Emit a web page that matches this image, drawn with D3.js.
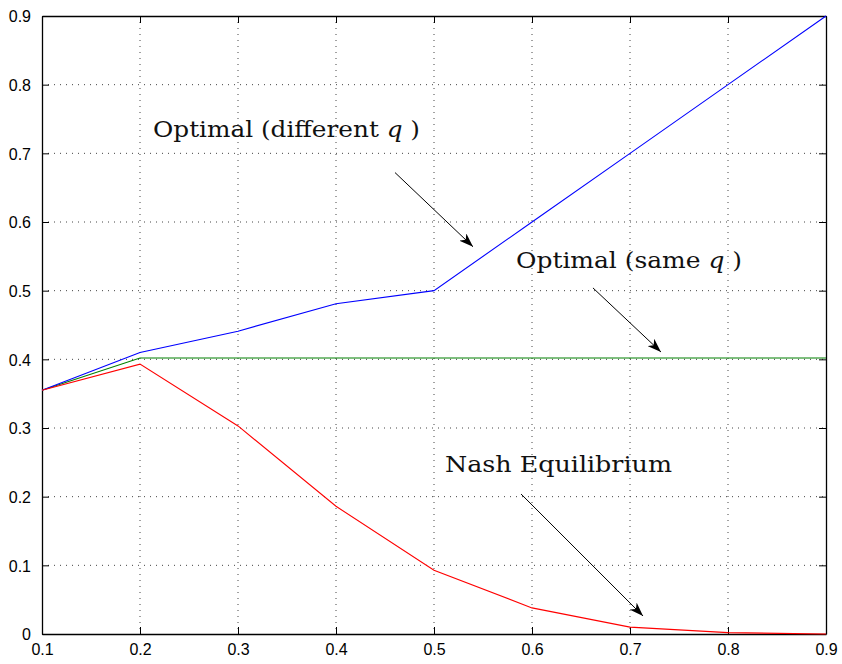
<!DOCTYPE html>
<html><head><meta charset="utf-8">
<script src="https://cdn.jsdelivr.net/npm/d3@7"></script>
<style>body{margin:0;background:#fff}svg{display:block}
.ann{font-family:"DejaVu Serif",serif;}
.tk{font-family:"Liberation Sans",Arial,sans-serif;}
</style>
</head><body>
<svg id="chart" width="842" height="664"></svg>
<script>
const xValues = [0.1,0.2,0.3,0.4,0.5,0.6,0.7,0.8,0.9];
const optimalDifferent = [0.355,0.41,0.441,0.481,0.5,0.6,0.7,0.8,0.9];
const optimalSame = [0.355,0.402,0.402,0.402,0.402,0.402,0.402,0.402,0.402];
const nash = [0.355,0.393,0.303,0.186,0.093,0.038,0.010,0.002,0.0];
const xTicks = [0.1,0.2,0.3,0.4,0.5,0.6,0.7,0.8,0.9];
const yTicks = [0,0.1,0.2,0.3,0.4,0.5,0.6,0.7,0.8,0.9];
const labels = [
  {text:"Optimal (different ", q:"q", x:0.2133, y:0.7238, w:267, ax0:0.4602, ay0:0.672, ax1:0.5398, ay1:0.564},
  {text:"Optimal (same ", q:"q", x:0.5837, y:0.533, w:226, ax0:0.6622, ay0:0.504, ax1:0.7316, ay1:0.4107},
  {text:"Nash Equilibrium", q:null, x:0.5112, y:0.2359, w:227, ax0:0.5888, ay0:0.2039, ax1:0.7133, ay1:0.0262}
];

const svg = d3.select("#chart");
const L=42, R=826, T=16, B=634;
const x = d3.scaleLinear().domain([0.1,0.9]).range([L,R]);
const y = d3.scaleLinear().domain([0,0.9]).range([B,T]);

// grid
const g = svg.append("g");
g.selectAll(".gx").data(xTicks.slice(1,-1)).enter().append("line")
  .attr("x1",d=>x(d)).attr("x2",d=>x(d)).attr("y1",T).attr("y2",B)
  .attr("stroke","#444").attr("stroke-width",1).attr("stroke-dasharray","1,5");
g.selectAll(".gy").data(yTicks.slice(1,-1)).enter().append("line")
  .attr("y1",d=>y(d)).attr("y2",d=>y(d)).attr("x1",L).attr("x2",R)
  .attr("stroke","#444").attr("stroke-width",1).attr("stroke-dasharray","1,5");

// axes
const fmt = d=> d===0 ? "0" : d3.format(".1f")(d);
const axB = svg.append("g").attr("transform",`translate(0,${B})`)
  .call(d3.axisBottom(x).tickValues(xTicks).tickFormat(fmt).tickSizeInner(-7).tickSizeOuter(0).tickPadding(13));
const axL = svg.append("g").attr("transform",`translate(${L},0)`)
  .call(d3.axisLeft(y).tickValues(yTicks).tickFormat(fmt).tickSizeInner(-7).tickSizeOuter(0).tickPadding(11));
const axT = svg.append("g").attr("transform",`translate(0,${T})`)
  .call(d3.axisTop(x).tickValues(xTicks).tickFormat("").tickSizeInner(-7).tickSizeOuter(0));
const axR = svg.append("g").attr("transform",`translate(${R},0)`)
  .call(d3.axisRight(y).tickValues(yTicks).tickFormat("").tickSizeInner(-7).tickSizeOuter(0));
[axB,axL,axT,axR].forEach(a=>{
  a.attr("font-family",null).attr("font-size",null);
  a.selectAll("path.domain").attr("stroke","#000").attr("stroke-width",1.3);
  a.selectAll(".tick line").attr("stroke","#000");
  a.selectAll("text").attr("class","tk").style("font-size","16px").attr("fill","#000");
});
axB.selectAll("text").attr("dy","0.5em");
axL.selectAll("text").attr("dy","0.36em");

// lines
const line = arr => d3.line().x((d,i)=>x(xValues[i])).y(d=>y(d))(arr);
const series = [
  {v:optimalSame, c:"#008000"},
  {v:optimalDifferent, c:"#0000ff"},
  {v:nash, c:"#ff0000"}
];
svg.selectAll(".series").data(series).enter().append("path")
  .attr("d",d=>line(d.v)).attr("fill","none").attr("stroke",d=>d.c).attr("stroke-width",1.1);

// arrowhead marker
svg.append("defs").append("marker").attr("id","arr")
  .attr("viewBox","0 0 14 10").attr("refX",14).attr("refY",5)
  .attr("markerWidth",14).attr("markerHeight",10).attr("markerUnits","userSpaceOnUse")
  .attr("orient","auto")
  .append("path").attr("d","M0,0 L14,5 L0,10 L4,5 Z").attr("fill","#000");

// annotations
labels.forEach(l=>{
  const t = svg.append("text").attr("class","ann").attr("x",x(l.x)).attr("y",y(l.y))
    .style("font-size","22px").attr("fill","#111")
    .attr("textLength",l.w).attr("lengthAdjust","spacingAndGlyphs");
  t.append("tspan").text(l.text);
  if(l.q){
    t.append("tspan").attr("font-style","italic").text(l.q);
    t.append("tspan").text(" )");
  }
  svg.append("line").attr("x1",x(l.ax0)).attr("y1",y(l.ay0)).attr("x2",x(l.ax1)).attr("y2",y(l.ay1))
    .attr("stroke","#000").attr("stroke-width",1).attr("marker-end","url(#arr)");
});
</script>
</body></html>
